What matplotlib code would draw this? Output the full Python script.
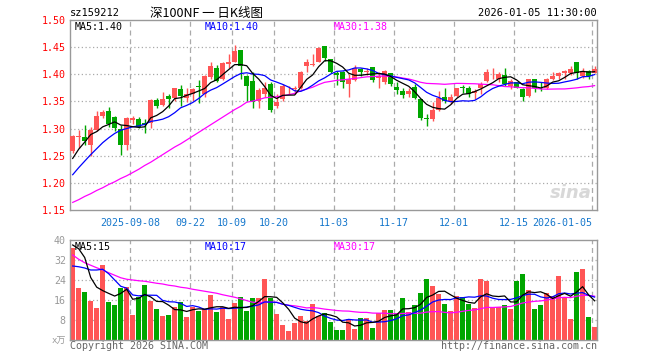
import numpy as np
import pandas as pd
import matplotlib
matplotlib.use("Agg")
import matplotlib.pyplot as plt

# --- daily bars (sz159212, 2025-08-25 .. 2026-01-05) ---
OPEN = [1.258, 1.284, 1.285, 1.269, 1.298, 1.324, 1.332, 1.322, 1.299, 1.269,
        1.315, 1.318, 1.311, 1.311, 1.352, 1.343, 1.360, 1.357, 1.372, 1.357,
        1.363, 1.378, 1.363, 1.395, 1.411, 1.391, 1.419, 1.423, 1.444, 1.397,
        1.388, 1.351, 1.363, 1.383, 1.341, 1.354, 1.372, 1.373, 1.374, 1.415,
        1.417, 1.423, 1.453, 1.428, 1.403, 1.404, 1.383, 1.390, 1.409, 1.404,
        1.414, 1.394, 1.385, 1.402, 1.377, 1.369, 1.364, 1.377, 1.354, 1.319,
        1.317, 1.335, 1.359, 1.351, 1.360, 1.377, 1.375, 1.365, 1.374, 1.388,
        1.402, 1.391, 1.398, 1.378, 1.385, 1.372, 1.360, 1.391, 1.375, 1.375,
        1.392, 1.396, 1.403, 1.402, 1.423, 1.397, 1.406, 1.403]
HIGH = [1.289, 1.297, 1.307, 1.303, 1.332, 1.335, 1.339, 1.324, 1.307, 1.322,
        1.324, 1.322, 1.317, 1.354, 1.357, 1.367, 1.363, 1.375, 1.380, 1.374,
        1.374, 1.389, 1.398, 1.422, 1.417, 1.423, 1.437, 1.454, 1.445, 1.398,
        1.404, 1.374, 1.385, 1.385, 1.363, 1.383, 1.378, 1.378, 1.406, 1.428,
        1.437, 1.450, 1.453, 1.428, 1.406, 1.406, 1.400, 1.417, 1.412, 1.411,
        1.414, 1.404, 1.407, 1.403, 1.385, 1.375, 1.375, 1.382, 1.354, 1.326,
        1.349, 1.369, 1.375, 1.363, 1.375, 1.380, 1.378, 1.372, 1.385, 1.409,
        1.411, 1.404, 1.411, 1.391, 1.386, 1.375, 1.392, 1.391, 1.385, 1.394,
        1.405, 1.404, 1.407, 1.415, 1.423, 1.411, 1.407, 1.415]
LOW = [1.255, 1.264, 1.269, 1.250, 1.295, 1.320, 1.303, 1.295, 1.252, 1.260,
       1.309, 1.301, 1.291, 1.301, 1.337, 1.341, 1.338, 1.350, 1.341, 1.349,
       1.350, 1.348, 1.359, 1.391, 1.385, 1.390, 1.412, 1.422, 1.392, 1.351,
       1.338, 1.338, 1.358, 1.330, 1.338, 1.351, 1.363, 1.364, 1.372, 1.404,
       1.415, 1.422, 1.425, 1.402, 1.381, 1.374, 1.358, 1.388, 1.397, 1.398,
       1.385, 1.374, 1.383, 1.378, 1.363, 1.357, 1.358, 1.354, 1.315, 1.304,
       1.314, 1.332, 1.348, 1.346, 1.358, 1.365, 1.358, 1.354, 1.363, 1.386,
       1.391, 1.386, 1.378, 1.372, 1.374, 1.351, 1.359, 1.367, 1.369, 1.372,
       1.390, 1.391, 1.392, 1.398, 1.392, 1.394, 1.391, 1.403]
CLOSE = [1.286, 1.287, 1.277, 1.298, 1.324, 1.330, 1.309, 1.301, 1.269, 1.319,
         1.319, 1.303, 1.306, 1.352, 1.341, 1.354, 1.355, 1.374, 1.360, 1.363,
         1.372, 1.377, 1.397, 1.415, 1.388, 1.420, 1.423, 1.443, 1.415, 1.378,
         1.349, 1.371, 1.374, 1.334, 1.349, 1.378, 1.373, 1.375, 1.404, 1.423,
         1.419, 1.449, 1.430, 1.404, 1.399, 1.385, 1.392, 1.411, 1.404, 1.406,
         1.390, 1.396, 1.406, 1.382, 1.371, 1.362, 1.369, 1.356, 1.319, 1.317,
         1.335, 1.357, 1.351, 1.359, 1.375, 1.374, 1.363, 1.369, 1.383, 1.404,
         1.403, 1.400, 1.382, 1.388, 1.375, 1.359, 1.391, 1.375, 1.374, 1.392,
         1.396, 1.403, 1.406, 1.410, 1.402, 1.406, 1.396, 1.410]
VOLUME = [36.9, 20.9, 19.3, 15.7, 12.9, 30.0, 15.3, 14.0, 20.9, 21.3,
          10.0, 17.1, 22.0, 15.7, 12.4, 9.6, 10.0, 13.1, 15.2, 9.2,
          13.1, 11.7, 12.4, 18.0, 11.3, 13.1, 8.5, 14.7, 17.2, 11.6,
          16.8, 16.8, 24.4, 16.9, 10.4, 6.0, 3.7, 6.8, 9.6, 7.7,
          14.4, 9.6, 10.9, 7.2, 4.0, 4.0, 8.3, 4.5, 8.8, 8.8,
          4.8, 10.7, 12.0, 12.0, 10.7, 16.8, 11.1, 14.0, 18.8, 24.4,
          21.6, 18.4, 14.4, 11.6, 17.6, 17.2, 14.4, 12.8, 24.4, 23.6,
          12.8, 13.3, 14.0, 12.4, 23.6, 26.4, 20.0, 12.4, 14.0, 18.9,
          17.6, 25.6, 17.1, 8.4, 27.2, 28.4, 9.2, 5.2]

# moving averages before enough bars are on screen
MA5_HEAD = [1.245, 1.262, 1.275, 1.289]
MA10_HEAD = [1.215, 1.228, 1.240, 1.252, 1.263, 1.274, 1.283, 1.291, 1.297]
MA30_HEAD = [1.164, 1.169, 1.175, 1.180, 1.186, 1.191, 1.197, 1.202, 1.208, 1.213,
             1.219, 1.225, 1.232, 1.238, 1.245, 1.252, 1.259, 1.266, 1.272, 1.279,
             1.286, 1.293, 1.300, 1.307, 1.314, 1.321, 1.328, 1.335, 1.341]
VMA5_HEAD = [38.0, 36.5, 33.0, 25.0]
VMA10_HEAD = [29.6, 29.3, 28.8, 28.0, 28.0, 28.3, 26.5, 24.0, 21.5]
VMA30_HEAD = [34.0, 32.3, 30.9, 29.9, 28.9, 28.0, 26.9, 25.9, 24.9, 24.3,
              24.0, 23.7, 23.5, 23.1, 22.7, 22.4, 21.9, 21.6, 21.1, 20.8,
              20.3, 19.9, 19.5, 19.1, 18.7, 18.1, 17.6, 17.1, 16.5]

TICK_DATES = ["2025-09-08", "2025-09-22", "2025-10-09", "2025-10-20", "2025-11-03",
              "2025-11-17", "2025-12-01", "2025-12-15", "2026-01-05"]
TICK_LABELS = ["2025-09-08", "09-22", "10-09", "10-20", "11-03",
               "11-17", "12-01", "12-15", "2026-01-05"]
HOLIDAYS = ["2025-10-01", "2025-10-02", "2025-10-03", "2025-10-06", "2025-10-07",
            "2025-10-08", "2026-01-01", "2026-01-02"]

days = pd.bdate_range("2025-08-25", "2026-01-05")
days = days[~days.isin(pd.to_datetime(HOLIDAYS))]
x = np.arange(len(days))


def moving(vals, n, head):
    s = pd.Series(vals, dtype=float).rolling(n).mean()
    s.iloc[:len(head)] = head
    return s.values


ma5 = moving(CLOSE, 5, MA5_HEAD)
ma10 = moving(CLOSE, 10, MA10_HEAD)
ma30 = moving(CLOSE, 30, MA30_HEAD)
vma5 = moving(VOLUME, 5, VMA5_HEAD)
vma10 = moving(VOLUME, 10, VMA10_HEAD)
vma30 = moving(VOLUME, 30, VMA30_HEAD)

o = np.array(OPEN); c = np.array(CLOSE)
RED, GREEN = "#ff5555", "#00a600"
cols = np.where(c >= o, RED, GREEN)

MONO = ["DejaVu Sans Mono", "Noto Sans CJK SC"]
GRID = "#aaaaaa"
FRAME = "#999999"

fig = plt.figure(figsize=(6.6, 3.6), dpi=100)
ax = fig.add_axes([70 / 660, 150 / 360, 527 / 660, 190 / 360])
axv = fig.add_axes([70 / 660, 20 / 360, 527 / 660, 100 / 360])

tick_pos = [int(np.where(days == pd.Timestamp(d))[0][0]) - 0.42 for d in TICK_DATES]

for a in (ax, axv):
    a.set_xlim(-0.45, 87.4)
    for s in a.spines.values():
        s.set_color(FRAME)
        s.set_linewidth(1.0)
    a.tick_params(length=0, pad=3)
    a.set_xticks(tick_pos)
    for tp in tick_pos:
        a.axvline(tp, color=GRID, lw=0.9, ls=(0, (4, 3)), zorder=0)

# --- price panel ---
ax.set_ylim(1.15, 1.50)
pticks = np.arange(1.15, 1.5001, 0.05)
ax.set_yticks(pticks)
ax.set_yticklabels([f"{v:.2f}" for v in pticks], color="#ff0000",
                   family=MONO, fontsize=7.2)
for v in pticks[1:-1]:
    ax.axhline(v, color=GRID, lw=0.9, ls=(0, (1, 2)), zorder=0)
ax.set_xticklabels(TICK_LABELS, color="#1577cc", family=MONO, fontsize=7.2)
ax.tick_params(axis="x", pad=6)
ax.get_xticklabels()[-1].set_ha("right")
ax.get_xticklabels()[-1].set_x(tick_pos[-1])

ax.vlines(x, LOW, HIGH, colors=cols, lw=1.0, zorder=2)
ax.bar(x, np.maximum(np.abs(c - o), 0.0009), 0.8, bottom=np.minimum(o, c),
       color=cols, zorder=3, linewidth=0)
ax.plot(x, ma30, color="#ff00ff", lw=0.9, zorder=4)
ax.plot(x, ma10, color="#0000ff", lw=0.9, zorder=4)
ax.plot(x, ma5, color="#000000", lw=0.9, zorder=5)

ax.text(0.008, 0.965, f"MA5:{ma5[-1]:.2f}", transform=ax.transAxes, color="black",
        family=MONO, fontsize=7.2, va="center")
ax.text(0.256, 0.965, f"MA10:{ma10[-1]:.2f}", transform=ax.transAxes, color="#0000ff",
        family=MONO, fontsize=7.2, va="center")
ax.text(0.501, 0.965, f"MA30:{ma30[-1]:.2f}", transform=ax.transAxes, color="#ff00ff",
        family=MONO, fontsize=7.2, va="center")
ax.text(0.99, 0.04, "sina", transform=ax.transAxes, color="#d8d8d8",
        fontsize=13, fontweight="bold", style="italic", ha="right", va="bottom", zorder=1)

# --- volume panel ---
axv.set_ylim(0, 40)
vticks = [0, 8, 16, 24, 32, 40]
axv.set_yticks(vticks)
axv.set_yticklabels(["x万"] + [str(v) for v in vticks[1:]], color="#999999",
                    family=MONO, fontsize=7.2)
axv.get_yticklabels()[0].set_fontsize(6.5)
axv.set_xticklabels([])
for v in vticks[1:-1]:
    axv.axhline(v, color=GRID, lw=0.9, ls=(0, (1, 2)), zorder=0)
axv.bar(x, VOLUME, 0.83, color=cols, linewidth=0, zorder=2)
axv.plot(x, vma30, color="#ff00ff", lw=0.9, zorder=4)
axv.plot(x, vma10, color="#0000ff", lw=0.9, zorder=4)
axv.plot(x, vma5, color="#000000", lw=0.9, zorder=5)

axv.text(0.008, 0.935, f"MA5:{int(vma5[-1])}", transform=axv.transAxes, color="black",
         family=MONO, fontsize=7.2, va="center")
axv.text(0.256, 0.935, f"MA10:{int(vma10[-1])}", transform=axv.transAxes, color="#0000ff",
         family=MONO, fontsize=7.2, va="center")
axv.text(0.501, 0.935, f"MA30:{int(vma30[-1])}", transform=axv.transAxes, color="#ff00ff",
         family=MONO, fontsize=7.2, va="center")

# --- header / footer ---
top = 1 - 13 / 360
fig.text(70 / 660, top, "sz159212", family=MONO, fontsize=7.5, va="center")
fig.text(150 / 660, top, "深100NF 一 日K线图", family=["Noto Sans CJK SC", "DejaVu Sans"],
         fontsize=9, va="center")
fig.text(597 / 660, top, "2026-01-05 11:30:00", family=MONO, fontsize=7.5,
         va="center", ha="right")
bot = 1 - 346 / 360
fig.text(70 / 660, bot, "Copyright 2026 SINA.COM", family=MONO, fontsize=7.2,
         color="#666666", va="center")
fig.text(597 / 660, bot, "http://finance.sina.com.cn", family=MONO, fontsize=7.2,
         color="#666666", va="center", ha="right")

fig.savefig("out.png", dpi=100)
